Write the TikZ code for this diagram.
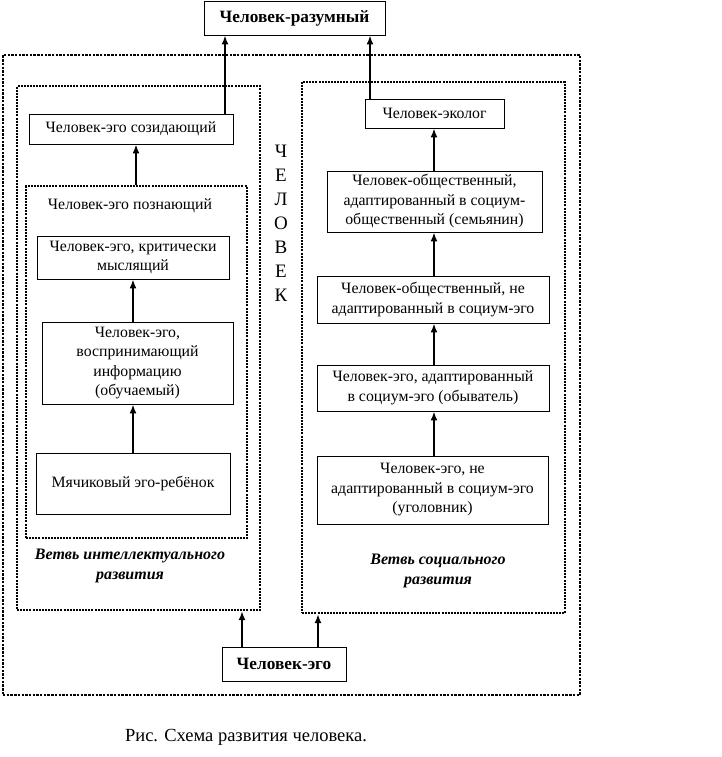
\documentclass[tikz,border=0pt]{standalone}
\usepackage{fontspec}
\setmainfont{Liberation Serif}
\usetikzlibrary{arrows.meta}
\begin{document}
\begin{tikzpicture}[x=1pt,y=-1pt,
  box/.style={draw, line width=0.9pt, align=center, inner sep=0pt,
    font=\fontsize{15.8}{19.5}\selectfont},
  bigbox/.style={draw, line width=0.9pt, align=center, inner sep=0pt,
    font=\fontsize{17.3}{20}\selectfont\bfseries},
  dotbox/.style={draw, line width=2.3pt, dash pattern=on 2pt off 1.1pt, inner sep=0pt},
  outerbox/.style={draw, line width=2.8pt, dash pattern=on 2.4pt off 1.3pt, inner sep=0pt},
  arr/.style={line width=1.7pt, -{Latex[length=9pt,width=7pt]}},
  plain/.style={align=center, inner sep=0pt, font=\fontsize{15.8}{19}\selectfont},
  branch/.style={align=center, inner sep=0pt, font=\fontsize{16}{19.5}\selectfont\bfseries\itshape}
]
\useasboundingbox (0,0) rectangle (721,757);

% dotted frames
\node[outerbox, minimum width=577pt, minimum height=640pt] (outer) at (291.5,375) {};
\node[dotbox, minimum width=243pt, minimum height=524pt] (leftbr) at (138.5,348) {};
\node[dotbox, minimum width=221pt, minimum height=352pt] (inner) at (136.5,362) {};
\node[dotbox, minimum width=263pt, minimum height=531pt] (rightbr) at (433.5,347.5) {};

% boxes
\node[bigbox, minimum width=181pt, minimum height=34pt] (raz) at (294.5,18) {Человек-разумный};
\node[box, minimum width=204pt, minimum height=30pt] (soz) at (131,129) {Человек-эго созидающий};
\node[box, minimum width=192pt, minimum height=43pt] (krit) at (133,257.5) {Человек-эго, критически\\мыслящий};
\node[box, minimum width=191pt, minimum height=82pt] (vosp) at (137.5,363) {Человек-эго,\\воспринимающий\\информацию\\(обучаемый)};
\node[box, minimum width=194pt, minimum height=61pt] (myach) at (133,483.5) {Мячиковый эго-ребёнок};

\node[box, minimum width=139pt, minimum height=29pt] (ekol) at (434.5,113.5) {Человек-эколог};
\node[box, minimum width=215pt, minimum height=61pt] (semya) at (434.5,201.5) {Человек-общественный,\\адаптированный в социум-\\общественный (семьянин)};
\node[box, minimum width=232pt, minimum height=47pt] (neads) at (433,299.5) {Человек-общественный, не\\адаптированный в социум-эго};
\node[box, minimum width=232pt, minimum height=46pt] (obyv) at (433,388) {Человек-эго, адаптированный\\в социум-эго (обыватель)};
\node[box, minimum width=231pt, minimum height=68pt] (ugol) at (432.5,490) {Человек-эго, не\\адаптированный в социум-эго\\(уголовник)};

\node[bigbox, minimum width=124pt, minimum height=34pt] (ego) at (284,664) {Человек-эго};

% texts
\node[plain] (pozn) at (130,206) {Человек-эго познающий};
\node[align=center, inner sep=0pt, font=\fontsize{19}{24}\selectfont] (chel) at (281,223) {Ч\\Е\\Л\\О\\В\\Е\\К};
\node[branch] (brint) at (130,566) {Ветвь интеллектуального\\развития};
\node[branch] (brsoc) at (438,571) {Ветвь социального\\развития};
\node[inner sep=0pt, font=\fontsize{18.5}{22}\selectfont] (cap) at (246,737) {Рис. Схема развития человека.};

% arrow x positions
\coordinate (xa) at (225,0);
\coordinate (xb) at (370,0);
\coordinate (xc) at (136,0);
\coordinate (xd) at (133,0);
\coordinate (xe) at (434,0);
\coordinate (xf) at (242,0);
\coordinate (xg) at (318,0);

\draw[arr] (soz.north -| xa) -- (raz.south -| xa);
\draw[arr] (ekol.north -| xb) -- (raz.south -| xb);
\draw[arr] (inner.north -| xc) -- (soz.south -| xc);
\draw[arr] (vosp.north -| xd) -- (krit.south -| xd);
\draw[arr] (myach.north -| xd) -- (vosp.south -| xd);
\draw[arr] (semya.north -| xe) -- (ekol.south -| xe);
\draw[arr] (neads.north -| xe) -- (semya.south -| xe);
\draw[arr] (obyv.north -| xe) -- (neads.south -| xe);
\draw[arr] (ugol.north -| xe) -- (obyv.south -| xe);
\draw[arr] (ego.north -| xf) -- (leftbr.south -| xf);
\draw[arr] (ego.north -| xg) -- (rightbr.south -| xg);
\end{tikzpicture}
\end{document}
